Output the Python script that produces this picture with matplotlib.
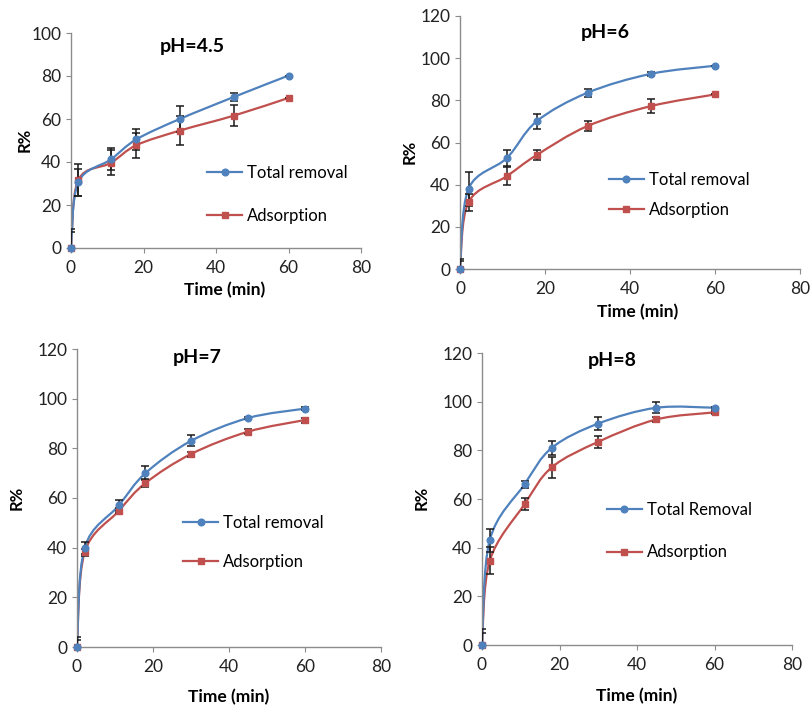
import matplotlib
matplotlib.use("Agg")
import matplotlib.pyplot as plt
from matplotlib.path import Path
from matplotlib.patches import PathPatch
from matplotlib.lines import Line2D

plt.rcParams['font.family'] = ['Lato', 'DejaVu Sans']

time = [0, 2, 11, 18, 30, 45, 60]

# pH 4.5
total_45 = [0, 30.6, 41.2, 50.5, 60, 70.3, 80.2]
total_45_err = [9, 6.3, 5.1, 5, 6.2, 1.8, 0]
ads_45 = [0, 31.6, 39.6, 47.8, 54.6, 61.6, 69.8]
ads_45_err = [7.5, 7.3, 5.8, 5.8, 6.6, 4.9, 0]

# pH 6
total_6 = [0, 38, 52.6, 70, 83.6, 92.6, 96.4]
total_6_err = [4.7, 8, 3.8, 3.5, 2, 1, 0]
ads_6 = [0, 31.7, 44, 54, 67.8, 77.3, 82.8]
ads_6_err = [4, 4, 4.3, 2.5, 2.5, 3.5, 0]

# pH 7
total_7 = [0, 39.9, 57, 70, 83, 92.2, 96]
total_7_err = [4, 2.5, 2.3, 2.7, 2.2, 0.5, 0.5]
ads_7 = [0, 38.1, 54.8, 66, 77.7, 86.7, 91.4]
ads_7_err = [3, 1.5, 1, 1.5, 1, 1, 1]

# pH 8
total_8 = [0, 43.1, 66.1, 81, 91, 97.5, 97.5]
total_8_err = [6.5, 4.7, 1.5, 3, 2.7, 2.2, 0.5]
ads_8 = [0, 34.6, 57.9, 73, 83.5, 92.7, 95.6]
ads_8_err = [5, 5.5, 2.5, 4.2, 2.5, 1, 0.5]

BLUE = '#4F81BD'
RED = '#C0504D'
GRAY = '#8c8c8c'

W, H = 811, 708


def smooth_path(x, y):
    # Excel-style smoothed line: cubic Bezier through the data points
    pts = list(zip(x, y))
    n = len(pts)
    verts = [pts[0]]
    codes = [Path.MOVETO]
    for i in range(n - 1):
        p0 = pts[max(i - 1, 0)]
        p1 = pts[i]
        p2 = pts[i + 1]
        p3 = pts[min(i + 2, n - 1)]
        c1 = (p1[0] + (p2[0] - p0[0]) / 6, p1[1] + (p2[1] - p0[1]) / 6)
        c2 = (p2[0] - (p3[0] - p1[0]) / 6, p2[1] - (p3[1] - p1[1]) / 6)
        verts += [c1, c2, p2]
        codes += [Path.CURVE4] * 3
    return Path(verts, codes)


def panel(rect, title, ymax, total, total_err, ads, ads_err, tlabel,
          title_pos, leg_pos, leg_space, rlab, tlab):
    ax = fig.add_axes(rect)
    for y, err, col, mk in [(ads, ads_err, RED, 's'), (total, total_err, BLUE, 'o')]:
        ax.add_patch(PathPatch(smooth_path(time, y), fill=False, edgecolor=col,
                               lw=1.6, zorder=2))
        ax.errorbar(time, y, yerr=err, fmt='none', ecolor='#1a1a1a',
                    elinewidth=1.1, capsize=2.8, capthick=1.1, zorder=3)
        ax.plot(time, y, ls='none', marker=mk, color=col, ms=4.8, mec=col,
                clip_on=False, zorder=4)
    ax.set_xlim(0, 80)
    ax.set_ylim(0, ymax)
    ax.set_xticks(range(0, 81, 20))
    ax.set_yticks(range(0, ymax + 1, 20))
    for s in ['top', 'right']:
        ax.spines[s].set_visible(False)
    for s in ['left', 'bottom']:
        ax.spines[s].set_color(GRAY)
        ax.spines[s].set_linewidth(1.0)
    ax.tick_params(colors=GRAY, labelcolor='#222222', labelsize=12.5, length=3.5,
                   direction='out')
    ax.tick_params(axis='x', pad=5)
    ax.text(title_pos[0], title_pos[1], title, transform=ax.transAxes,
            ha='center', va='center', fontsize=14, fontweight='bold')
    handles = [Line2D([], [], color=BLUE, marker='o', ms=4.8, lw=1.6),
               Line2D([], [], color=RED, marker='s', ms=4.8, lw=1.6)]
    ax.legend(handles, [tlabel, 'Adsorption'], loc='center left',
              bbox_to_anchor=leg_pos, frameon=False, fontsize=12,
              handlelength=2.1, handletextpad=0.3, borderpad=0,
              borderaxespad=0, labelspacing=leg_space)
    fig.text(rlab[0] / W, 1 - rlab[1] / H, 'R%', rotation=90, ha='center',
             va='center', fontsize=12, fontweight='bold')
    fig.text(tlab[0] / W, 1 - tlab[1] / H, 'Time (min)', ha='center',
             va='center', fontsize=12.5, fontweight='bold')
    return ax


fig = plt.figure(figsize=(W / 100, H / 100), dpi=100)

panel([71 / W, 1 - 248 / H, 290 / W, 215 / H], 'pH=4.5', 100,
      total_45, total_45_err, ads_45, ads_45_err, 'Total removal',
      (0.417, 0.935), (0.469, 0.249), 1.65, (25, 140), (225, 290))
panel([460 / W, 1 - 269 / H, 340 / W, 253 / H], 'pH=6', 120,
      total_6, total_6_err, ads_6, ads_6_err, 'Total removal',
      (0.426, 0.933), (0.438, 0.292), 0.85, (410, 152), (638, 312))
panel([77 / W, 1 - 647 / H, 304 / W, 298 / H], 'pH=7', 120,
      total_7, total_7_err, ads_7, ads_7_err, 'Total removal',
      (0.396, 0.970), (0.349, 0.351), 1.4, (17, 498), (229, 697))
panel([482 / W, 1 - 645 / H, 310 / W, 292 / H], 'pH=8', 120,
      total_8, total_8_err, ads_8, ads_8_err, 'Total Removal',
      (0.419, 0.973), (0.403, 0.390), 1.6, (422, 498), (637, 696))

fig.savefig('out.png', dpi=100)
